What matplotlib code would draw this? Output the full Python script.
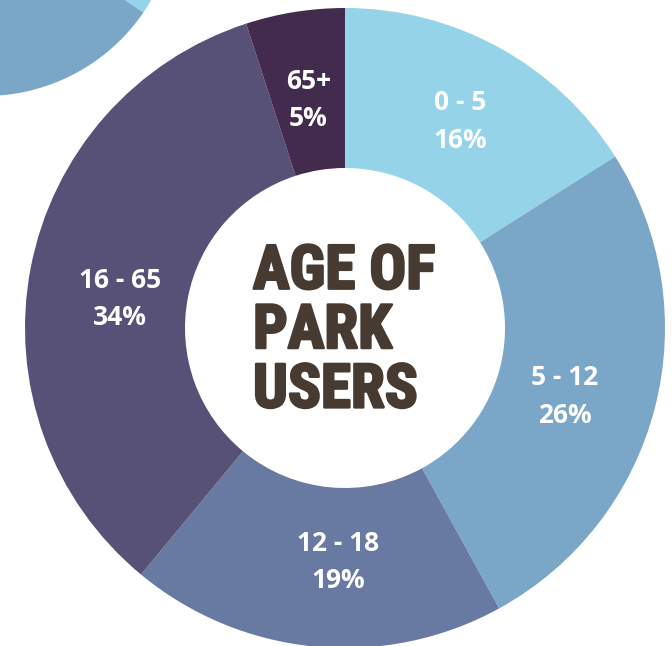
import matplotlib
matplotlib.use("Agg")
import matplotlib.pyplot as plt
import matplotlib.patheffects as pe
from matplotlib.patches import Wedge
import numpy as np

# ---- data ----
categories = ["0 - 5", "5 - 12", "12 - 18", "16 - 65", "65+"]
shares = [16, 26, 19, 34, 5]
colors = ["#94d3e8", "#7aa7c7", "#687aa2", "#575177", "#432b4e"]
title = "AGE OF\nPARK\nUSERS"

# label nudges in pixels (x right, y down) relative to wedge mid-point
label_nudge = [(0, 4), (-13, 9), (16, -5), (11, 16), (1, 9)]

W, H = 672, 646
fig = plt.figure(figsize=(W / 100, H / 100), dpi=100)
ax = fig.add_axes([0, 0, 1, 1])

cx, cy, R, width = 345, H - 328, 320, 160

wedges, _ = ax.pie(shares, colors=colors, startangle=90, counterclock=False,
                   center=(cx, cy), radius=R,
                   wedgeprops=dict(width=width, linewidth=0))

labfont = ["Open Sans", "DejaVu Sans"]
for w, cat, s, (nx, ny) in zip(wedges, categories, shares, label_nudge):
    ang = np.deg2rad((w.theta1 + w.theta2) / 2)
    r = R - width / 2
    ax.text(cx + r * np.cos(ang) + nx, cy + r * np.sin(ang) - ny,
            f"{cat}\n{s}%",
            ha="center", va="center", color="white", fontsize=19,
            fontweight="bold", family=labfont, linespacing=1.5)

# decorative partial circle top-left
ax.add_patch(Wedge((-15, H + 96), 192, -120, -34.4, color="#7aa7c7", lw=0))
ax.add_patch(Wedge((-15, H + 96), 192, -34.4, 30, color="#94d3e8", lw=0))

ax.text(253, cy - 3, title, ha="left", va="center", ma="left",
        color="#473a30", fontsize=44, fontweight="bold",
        family=["Roboto Condensed", "DejaVu Sans"], linespacing=1.03,
        path_effects=[pe.withStroke(linewidth=1.8, foreground="#473a30")])

ax.set_xlim(0, W)
ax.set_ylim(0, H)
ax.set_aspect("auto")
ax.axis("off")
fig.savefig("out.png", dpi=100)
